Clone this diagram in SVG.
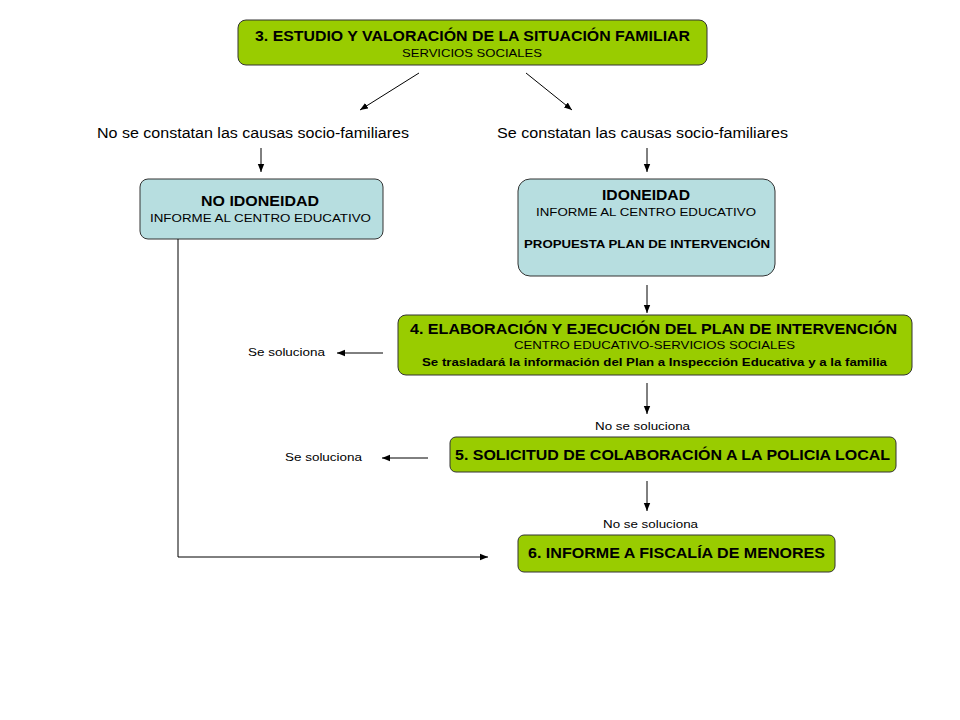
<svg xmlns="http://www.w3.org/2000/svg" width="960" height="720" viewBox="0 0 960 720">
<defs>
<marker id="ah" viewBox="0 0 10 10" refX="10" refY="5" markerWidth="8" markerHeight="8" markerUnits="userSpaceOnUse" orient="auto">
<path d="M0,1 L10,5 L0,9 z" fill="#000"/>
</marker>
<style>
text{font-family:"Liberation Sans",Arial,sans-serif;fill:#000}
.g{fill:#99CC00;stroke:#333;stroke-width:1}
.b{fill:#B7DEE0;stroke:#333;stroke-width:1}
.t{font-size:14px;font-weight:bold;text-anchor:middle}
.s{font-size:11px;text-anchor:middle}
.sb{font-size:11px;font-weight:bold;text-anchor:middle}
.l{font-size:14px}
.m{font-size:11px}
.c{fill:none;stroke:#000;stroke-width:1}
</style>
</defs>
<rect width="960" height="720" fill="#fff"/>
<g id="n3">
<rect class="g" x="238" y="20" width="469" height="45" rx="8"/>
<text class="t" x="472.5" y="41" textLength="435" lengthAdjust="spacingAndGlyphs">3. ESTUDIO Y VALORACIÓN DE LA SITUACIÓN FAMILIAR</text>
<text class="s" x="472" y="57" textLength="140" lengthAdjust="spacingAndGlyphs">SERVICIOS  SOCIALES</text>
</g>
<g id="lbl-no">
<text class="l" x="97" y="138" textLength="312" lengthAdjust="spacingAndGlyphs">No se constatan las causas socio-familiares</text>
</g>
<g id="lbl-si">
<text class="l" x="497" y="138" textLength="291" lengthAdjust="spacingAndGlyphs">Se constatan las causas socio-familiares</text>
</g>
<g id="noidon">
<rect class="b" x="140" y="179" width="243" height="60" rx="8"/>
<text class="t" x="260" y="206" textLength="118" lengthAdjust="spacingAndGlyphs">NO IDONEIDAD</text>
<text class="s" x="260.5" y="222" textLength="221" lengthAdjust="spacingAndGlyphs">INFORME AL CENTRO  EDUCATIVO</text>
</g>
<g id="idon">
<rect class="b" x="518" y="179" width="257" height="97" rx="12"/>
<text class="t" x="646" y="200" textLength="88" lengthAdjust="spacingAndGlyphs">IDONEIDAD</text>
<text class="s" x="646" y="216" textLength="220" lengthAdjust="spacingAndGlyphs">INFORME  AL CENTRO  EDUCATIVO</text>
<text class="sb" x="647" y="248" textLength="246" lengthAdjust="spacingAndGlyphs">PROPUESTA PLAN DE INTERVENCIÓN</text>
</g>
<g id="n4">
<rect class="g" x="398" y="315" width="514" height="60" rx="8"/>
<text class="t" x="653.5" y="334" textLength="487" lengthAdjust="spacingAndGlyphs">4. ELABORACIÓN Y EJECUCIÓN DEL PLAN DE INTERVENCIÓN</text>
<text class="s" x="654.5" y="349" textLength="281" lengthAdjust="spacingAndGlyphs">CENTRO  EDUCATIVO-SERVICIOS  SOCIALES</text>
<text class="sb" x="654.5" y="366" textLength="465" lengthAdjust="spacingAndGlyphs">Se trasladará  la información  del Plan a Inspección  Educativa y a la familia</text>
</g>
<g id="sol1"><text class="m" x="248" y="356" textLength="77" lengthAdjust="spacingAndGlyphs">Se soluciona</text></g>
<g id="nosol1"><text class="s" x="642.5" y="430" textLength="95" lengthAdjust="spacingAndGlyphs">No se soluciona</text></g>
<g id="n5">
<rect class="g" x="450" y="437" width="446" height="35" rx="6"/>
<text class="t" x="672.5" y="460" textLength="435" lengthAdjust="spacingAndGlyphs">5. SOLICITUD DE COLABORACIÓN A LA POLICIA LOCAL</text>
</g>
<g id="sol2"><text class="m" x="285" y="461" textLength="77" lengthAdjust="spacingAndGlyphs">Se soluciona</text></g>
<g id="nosol2"><text class="s" x="650.5" y="528" textLength="95" lengthAdjust="spacingAndGlyphs">No se soluciona</text></g>
<g id="n6">
<rect class="g" x="518" y="535" width="317" height="37" rx="6"/>
<text class="t" x="676.5" y="558" textLength="297" lengthAdjust="spacingAndGlyphs">6. INFORME A FISCALÍA DE MENORES</text>
</g>
<g id="connectors">
<line class="c" x1="419" y1="73" x2="360" y2="110" marker-end="url(#ah)"/>
<line class="c" x1="526" y1="73" x2="572" y2="110" marker-end="url(#ah)"/>
<line class="c" x1="261" y1="148" x2="261" y2="172" marker-end="url(#ah)"/>
<line class="c" x1="647" y1="148" x2="647" y2="172" marker-end="url(#ah)"/>
<polyline class="c" points="178,239 178,557 488,557" marker-end="url(#ah)"/>
<line class="c" x1="647" y1="285" x2="647" y2="313" marker-end="url(#ah)"/>
<line class="c" x1="383" y1="353" x2="337" y2="353" marker-end="url(#ah)"/>
<line class="c" x1="647" y1="383" x2="647" y2="414" marker-end="url(#ah)"/>
<line class="c" x1="428" y1="458" x2="382" y2="458" marker-end="url(#ah)"/>
<line class="c" x1="647" y1="481" x2="647" y2="511" marker-end="url(#ah)"/>
</g>
</svg>
